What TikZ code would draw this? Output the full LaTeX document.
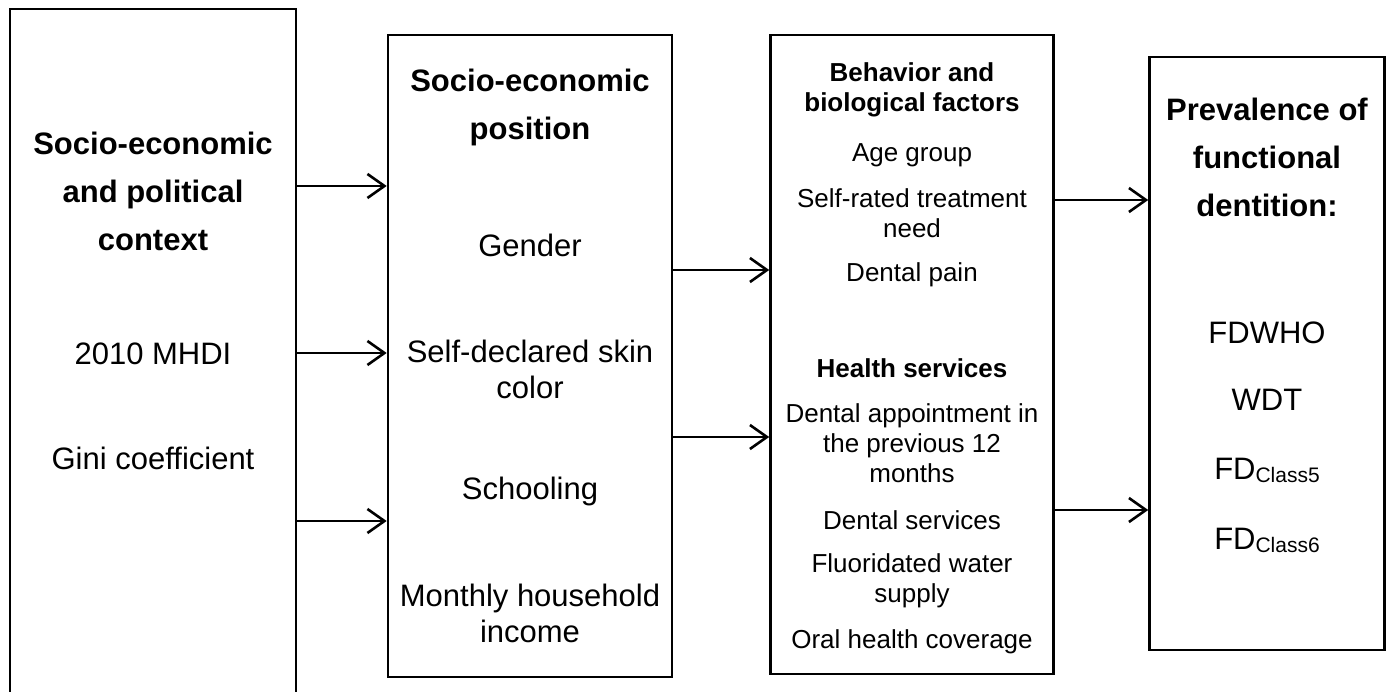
\documentclass[tikz,border=0pt]{standalone}
\usepackage{fontspec}
\setmainfont{Liberation Sans}
\usetikzlibrary{arrows.meta}

\newcommand{\cls}[1]{{\fontsize{21}{21}\selectfont\raisebox{-3pt}{#1}}}

\begin{document}
\begin{tikzpicture}[
    x=1pt, y=-1pt,
    box/.style={
        draw,
        line width=2.6pt,
        inner sep=0pt
    },
    big/.style={align=center, inner sep=0pt, font=\fontsize{31}{36}\selectfont},
    bighead/.style={align=center, inner sep=0pt, font=\fontsize{31}{48}\bfseries},
    small/.style={align=center, inner sep=0pt, font=\fontsize{26}{30}\selectfont},
    smallhead/.style={align=center, inner sep=0pt, font=\fontsize{26}{30}\bfseries},
    arrow/.style={-{Straight Barb[length=17pt,width=24pt]}, line width=2.6pt}
]

\clip (0,0) rectangle (1389,692);

\def\xa{153}
\def\xb{530}
\def\xc{912}
\def\xd{1267}

% ============================================================
% BOXES
% ============================================================

\node[box, minimum width=286pt, minimum height=691pt] (ctx) at (\xa,354.5) {};
\node[box, minimum width=284pt, minimum height=642pt] (sep) at (\xb,356) {};
\node[box, minimum width=283pt, minimum height=639pt] (beh) at (\xc,354.5) {};
\node[box, minimum width=235pt, minimum height=593pt] (out) at (\xd,353.5) {};

% ============================================================
% CONTEXT
% ============================================================

\node[bighead] (ctxhead) at (\xa,191) {Socio-economic\\and political\\context};
\node[big] (mhdi) at (\xa,354) {2010 MHDI};
\node[big] (gini) at (\xa,458) {Gini coefficient};

% ============================================================
% SOCIO-ECONOMIC POSITION
% ============================================================

\node[bighead] (sephead) at (\xb,107) {Socio-economic\\position};
\node[big] (gender) at (\xb,245) {Gender};
\node[big] (skin) at (\xb,369) {Self-declared skin\\color};
\node[big] (school) at (\xb,491) {Schooling};
\node[big] (income) at (\xb,613) {Monthly household\\income};

% ============================================================
% BEHAVIOR AND SERVICES
% ============================================================

\node[smallhead] (behhead) at (\xc,90) {Behavior and\\biological factors};
\node[small] (age) at (\xc,155) {Age group};
\node[small] (need) at (\xc,213) {Self-rated treatment\\need};
\node[small] (pain) at (\xc,275) {Dental pain};
\node[smallhead] (serhead) at (\xc,368) {Health services};
\node[small] (appt) at (\xc,443) {Dental appointment in\\the previous 12\\months};
\node[small] (serv) at (\xc,520) {Dental services};
\node[small] (water) at (\xc,581) {Fluoridated water\\supply};
\node[small] (cover) at (\xc,642) {Oral health coverage};

% ============================================================
% OUTCOME
% ============================================================

\node[bighead] (outhead) at (\xd,157) {Prevalence of\\functional\\dentition:};
\node[big] (fdwho) at (\xd,333) {FDWHO};
\node[big] (wdt) at (\xd,400) {WDT};
\node[big] (fdc5) at (\xd,470) {FD\cls{Class5}};
\node[big] (fdc6) at (\xd,540) {FD\cls{Class6}};

% arrows
\foreach \y in {186,353,521} {
    \draw[arrow] (ctx.east |- 0,\y) -- (sep.west |- 0,\y);
}
\foreach \y in {270,437} {
    \draw[arrow] (sep.east |- 0,\y) -- (beh.west |- 0,\y);
}
\foreach \y in {200,510} {
    \draw[arrow] (beh.east |- 0,\y) -- (out.west |- 0,\y);
}

\end{tikzpicture}
\end{document}
